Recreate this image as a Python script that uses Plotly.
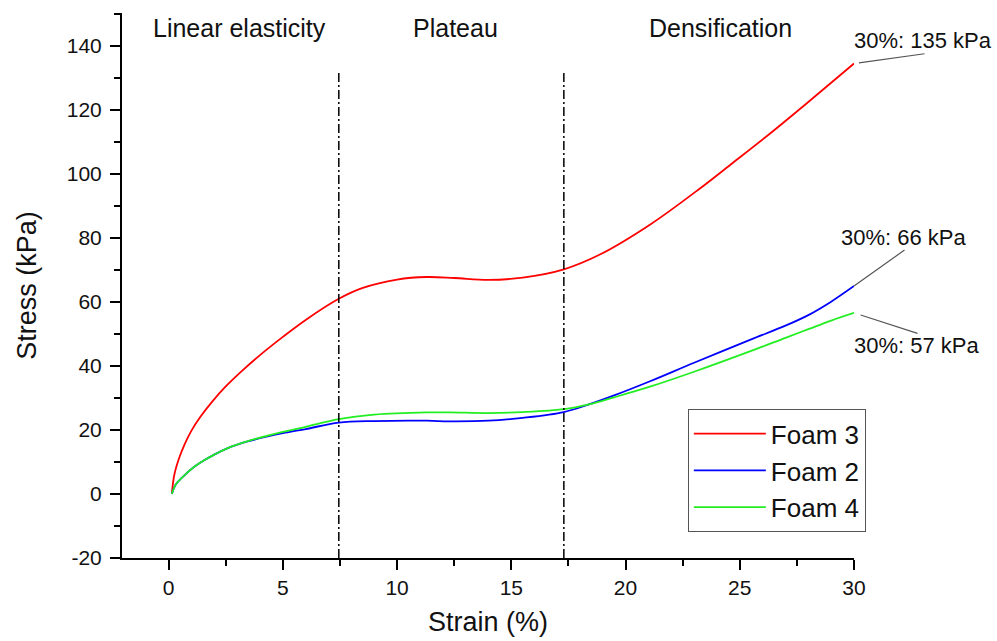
import plotly.graph_objects as go

# ---- data ----
strain_red = [0.14, 0.25, 0.45, 0.7, 1.0, 1.4, 1.9, 2.5, 3.2, 4.0, 5.0, 6.0, 7.45, 8.5, 10, 11.3,
              12.5, 14, 15.5, 17.3, 18.9, 21.1, 23.3, 24.7, 26.3, 28, 30]
stress_foam3 = [0, 6, 11, 15.5, 19.8, 24.2, 28.8, 33.6, 38.4, 43.4, 49.1, 54.4, 61, 64.4, 67, 67.8,
                67.5, 66.9, 67.6, 70.2, 74.9, 84.3, 95.7, 103.5, 112.5, 122.5, 134.5]

strain_bg = [0.14, 0.3, 0.6, 1.08, 1.5, 2.0, 2.54, 3.5, 5.0, 6.0, 7.45, 9, 11.3, 12.3, 14, 15.5,
             17.3, 18.4, 19.5, 21.1, 23, 25.5, 27, 28, 29, 30]
stress_foam2 = [0, 2.8, 5.2, 8.3, 10.3, 12.3, 14.2, 16.5, 19, 20.3, 22.3, 22.8, 22.9, 22.7, 22.9,
                23.8, 25.6, 28, 30.8, 35.3, 41, 48.3, 52.6, 55.9, 60.1, 65]
stress_foam4 = [0, 2.8, 5.2, 8.3, 10.3, 12.3, 14.2, 16.6, 19.4, 21, 23.4, 24.8, 25.5, 25.5, 25.3,
                25.6, 26.5, 28, 30.2, 33.6, 38.2, 44.7, 48.8, 51.5, 54.2, 56.6]

boundaries = [7.45, 17.3]
region_labels = ["Linear elasticity", "Plateau", "Densification"]
end_labels = ["30%: 135 kPa", "30%: 66 kPa", "30%: 57 kPa"]
end_values = [134.5, 65, 56.6]

y_tick_vals = [-20, 0, 20, 40, 60, 80, 100, 120, 140]
y_tick_text = ["-20", "0", "20", "40", "60", "80", "100", "120", "140"]
x_tick_vals = [0, 5, 10, 15, 20, 25, 30]
x_tick_text = ["0", "5", "10", "15", "20", "25", "30"]

FONT = "Liberation Sans, Arial, sans-serif"
TXT = "#111111"

fig = go.Figure()
fig.add_trace(go.Scatter(x=strain_red, y=stress_foam3, mode="lines", name="Foam 3",
                         line=dict(color="#ff0000", width=1.8, shape="spline", smoothing=1.0)))
fig.add_trace(go.Scatter(x=strain_bg, y=stress_foam2, mode="lines", name="Foam 2",
                         line=dict(color="#0000ff", width=1.8, shape="spline", smoothing=1.0)))
fig.add_trace(go.Scatter(x=strain_bg, y=stress_foam4, mode="lines", name="Foam 4",
                         line=dict(color="#22ee22", width=1.8, shape="spline", smoothing=1.0)))

for b in boundaries:
    fig.add_shape(type="line", x0=b, x1=b, y0=-20, y1=132, xref="x", yref="y",
                  line=dict(color="black", width=1.5, dash="9px,3px,2px,3px"))

# region labels
for lbl, px in zip(region_labels, [0.16, 0.455, 0.818]):
    fig.add_annotation(text=lbl, x=px, y=0.972, xref="paper", yref="paper",
                       showarrow=False, xanchor="center", yanchor="middle",
                       font=dict(family=FONT, size=25, color=TXT))

# leader lines
offsets = [(72, -10, 5), (52, -37, 0), (65, 21, 7)]
for v, (ax, ay, so) in zip(end_values, offsets):
    fig.add_annotation(text="", x=30, y=v, xref="x", yref="y", ax=ax, ay=ay,
                       showarrow=True, arrowhead=0, arrowwidth=1.2, arrowcolor="#555555",
                       standoff=so)

# end labels
for lbl, (px, py) in zip(end_labels, [(1.0943, 0.950), (1.068, 0.588), (1.0867, 0.390)]):
    fig.add_annotation(text=lbl, x=px, y=py, xref="paper", yref="paper",
                       showarrow=False, xanchor="center", yanchor="middle",
                       font=dict(family=FONT, size=22, color=TXT))

fig.update_layout(
    width=997, height=641,
    margin=dict(l=122, r=143, t=13, b=83, autoexpand=False),
    paper_bgcolor="white", plot_bgcolor="white",
    font=dict(family=FONT, color=TXT),
    showlegend=True,
    legend=dict(x=0.773, y=0.273, xanchor="left", yanchor="top",
                bordercolor="#555555", borderwidth=1, bgcolor="white",
                font=dict(family=FONT, size=26, color=TXT),
                itemwidth=72, tracegroupgap=0),
    xaxis=dict(range=[-2.04, 30], showgrid=False, zeroline=False, automargin=False,
               showline=True, linecolor="black", linewidth=2,
               ticks="outside", ticklen=10, tickwidth=2, tickcolor="black",
               tickvals=x_tick_vals, ticktext=x_tick_text,
               minor=dict(ticks="outside", ticklen=6, tickwidth=2, tickcolor="black",
                          tick0=0, dtick=2.5),
               tickfont=dict(family=FONT, size=21, color=TXT),
               title=dict(text="Strain (%)", font=dict(family=FONT, size=27, color=TXT), standoff=14)),
    yaxis=dict(range=[-20, 150.3], showgrid=False, zeroline=False, automargin=False,
               showline=True, linecolor="black", linewidth=2,
               ticks="outside", ticklen=10, tickwidth=2, tickcolor="black",
               tickvals=y_tick_vals, ticktext=y_tick_text, ticklabelstandoff=4,
               minor=dict(ticks="outside", ticklen=6, tickwidth=2, tickcolor="black",
                          tick0=0, dtick=10),
               tickfont=dict(family=FONT, size=21, color=TXT),
               title=dict(text="Stress (kPa)", font=dict(family=FONT, size=27, color=TXT), standoff=22)),
)

fig.write_html("out.html", config={"displayModeBar": False},
               post_script="document.body.style.margin='0px';")
